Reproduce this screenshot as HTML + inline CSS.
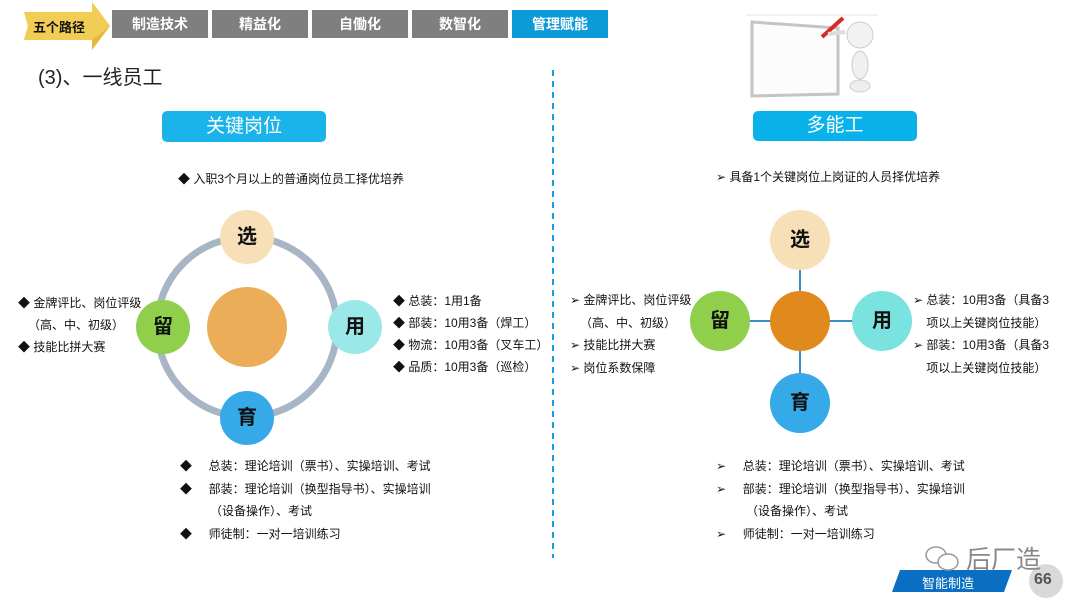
<!DOCTYPE html>
<html><head><meta charset="utf-8"><style>
body{margin:0;width:1080px;height:608px;background:#fff;position:relative;overflow:hidden;font-family:"Liberation Sans","Noto Sans CJK SC",sans-serif;color:#333}
.a{position:absolute;white-space:nowrap}
.tab{position:absolute;top:10px;height:28px;width:96px;background:#7f7f7f;color:#fff;font-size:14px;font-weight:bold;text-align:center;line-height:28px}
.t{font-size:12px;color:#111;position:absolute;white-space:nowrap}
.c{position:absolute;border-radius:50%;text-align:center;font-weight:bold;font-size:20px;color:#111}
</style></head><body>
<svg class="a" style="left:0;top:0" width="1080" height="608">
<polygon points="24,12 92,12 92,2 110,26 92,50 92,40 24,40 28,26" fill="#e6b73b"/>
<polygon points="24,12 92,12 92,2 110,26 92,40 24,40 28,26" fill="#f2cd55"/>
<line x1="553" y1="70" x2="553" y2="558" stroke="#1a9ee0" stroke-width="2" stroke-dasharray="6,5"/>
<circle cx="247" cy="327" r="90" fill="none" stroke="#a8b5c5" stroke-width="7"/>
<line x1="800" y1="240" x2="800" y2="403" stroke="#3a8fc9" stroke-width="2"/>
<line x1="720" y1="321" x2="882" y2="321" stroke="#3a8fc9" stroke-width="2"/>
<line x1="746" y1="15" x2="878" y2="15" stroke="#dde6ee"/>
<polygon points="752,22 838,28 838,94 752,96" fill="#fcfcfc" stroke="#c4c4c4" stroke-width="3"/>
<line x1="822" y1="37" x2="843" y2="18" stroke="#d42a2a" stroke-width="4"/>
<circle cx="860" cy="35" r="13" fill="#f2f2f2" stroke="#ccc"/>
<ellipse cx="860" cy="65" rx="8" ry="14" fill="#f0f0f0" stroke="#ccc"/>
<ellipse cx="860" cy="86" rx="10" ry="6" fill="#eee" stroke="#ccc"/>
<line x1="845" y1="32" x2="828" y2="34" stroke="#ddd" stroke-width="4"/>
<polygon points="900,570 1012,570 1004,592 892,592" fill="#0a6fc2"/>
<circle cx="1046" cy="581" r="17" fill="#d9d9d9"/>
<ellipse cx="936" cy="555" rx="10" ry="8" fill="none" stroke="#999" stroke-width="1.5"/>
<ellipse cx="948" cy="562" rx="10" ry="8" fill="#fff" stroke="#999" stroke-width="1.5"/>
</svg>
<div class="a" style="left:33px;top:17px;font-size:13px;font-weight:bold;color:#111">五个路径</div>
<div class="tab" style="left:112px">制造技术</div>
<div class="tab" style="left:212px">精益化</div>
<div class="tab" style="left:312px">自働化</div>
<div class="tab" style="left:412px">数智化</div>
<div class="tab" style="left:512px;background:#0d9ad8">管理赋能</div>
<div class="a" style="left:38px;top:61px;font-size:20px;color:#222">(3)、一线员工</div>
<div class="a" style="left:162px;top:111px;width:164px;height:31px;background:#1ab4ea;border-radius:5px;color:#fff;font-size:19px;text-align:center;line-height:31px">关键岗位</div>
<div class="a" style="left:753px;top:111px;width:164px;height:30px;background:#0ab2ec;border-radius:5px;color:#fff;font-size:19px;text-align:center;line-height:30px">多能工</div>
<div class="t" style="left:178px;top:170px">◆ 入职3个月以上的普通岗位员工择优培养</div>
<div class="t" style="left:716px;top:168px">➢ 具备1个关键岗位上岗证的人员择优培养</div>

<div class="c" style="left:220px;top:210px;width:54px;height:54px;line-height:54px;background:#f7dfb8">选</div>
<div class="c" style="left:136px;top:300px;width:54px;height:54px;line-height:54px;background:#8fcf4b">留</div>
<div class="c" style="left:328px;top:300px;width:54px;height:54px;line-height:54px;background:#9ae8e8">用</div>
<div class="c" style="left:220px;top:391px;width:54px;height:54px;line-height:54px;background:#36a9e8">育</div>
<div class="c" style="left:207px;top:287px;width:80px;height:80px;background:#ebad57"></div>

<div class="c" style="left:770px;top:210px;width:60px;height:60px;line-height:60px;background:#f7dfb8">选</div>
<div class="c" style="left:690px;top:291px;width:60px;height:60px;line-height:60px;background:#8fcf4b">留</div>
<div class="c" style="left:852px;top:291px;width:60px;height:60px;line-height:60px;background:#7ae2df">用</div>
<div class="c" style="left:770px;top:373px;width:60px;height:60px;line-height:60px;background:#36a9e8">育</div>
<div class="c" style="left:770px;top:291px;width:60px;height:60px;background:#e08a1e"></div>

<div class="t" style="left:18px;top:292px;line-height:22px">◆ 金牌评比、岗位评级<br>&nbsp;&nbsp;&nbsp;（高、中、初级）<br>◆ 技能比拼大赛</div>
<div class="t" style="left:393px;top:290px;line-height:22px">◆ 总装：1用1备<br>◆ 部装：10用3备（焊工）<br>◆ 物流：10用3备（叉车工）<br>◆ 品质：10用3备（巡检）</div>
<div class="t" style="left:180px;top:455px;line-height:22.5px">◆&nbsp;&nbsp;&nbsp;&nbsp;&nbsp;总装：理论培训（票书）、实操培训、考试<br>◆&nbsp;&nbsp;&nbsp;&nbsp;&nbsp;部装：理论培训（换型指导书）、实操培训<br>&nbsp;&nbsp;&nbsp;&nbsp;&nbsp;&nbsp;&nbsp;&nbsp;&nbsp;（设备操作）、考试<br>◆&nbsp;&nbsp;&nbsp;&nbsp;&nbsp;师徒制：一对一培训练习</div>

<div class="t" style="left:570px;top:289px;line-height:22.5px">➢ 金牌评比、岗位评级<br>&nbsp;&nbsp;&nbsp;（高、中、初级）<br>➢ 技能比拼大赛<br>➢ 岗位系数保障</div>
<div class="t" style="left:913px;top:289px;line-height:22.5px">➢ 总装：10用3备（具备3<br>&nbsp;&nbsp;&nbsp;&nbsp;项以上关键岗位技能）<br>➢ 部装：10用3备（具备3<br>&nbsp;&nbsp;&nbsp;&nbsp;项以上关键岗位技能）</div>
<div class="t" style="left:716px;top:455px;line-height:22.5px">➢&nbsp;&nbsp;&nbsp;&nbsp;&nbsp;总装：理论培训（票书）、实操培训、考试<br>➢&nbsp;&nbsp;&nbsp;&nbsp;&nbsp;部装：理论培训（换型指导书）、实操培训<br>&nbsp;&nbsp;&nbsp;&nbsp;&nbsp;&nbsp;&nbsp;&nbsp;&nbsp;（设备操作）、考试<br>➢&nbsp;&nbsp;&nbsp;&nbsp;&nbsp;师徒制：一对一培训练习</div>

<div class="a" style="left:966px;top:540px;font-size:25px;color:#888">后厂造</div>
<div class="a" style="left:922px;top:573px;font-size:13px;color:#fff">智能制造</div>
<div class="a" style="left:1034px;top:571px;font-size:16px;font-weight:bold;color:#555">66</div>
</body></html>
